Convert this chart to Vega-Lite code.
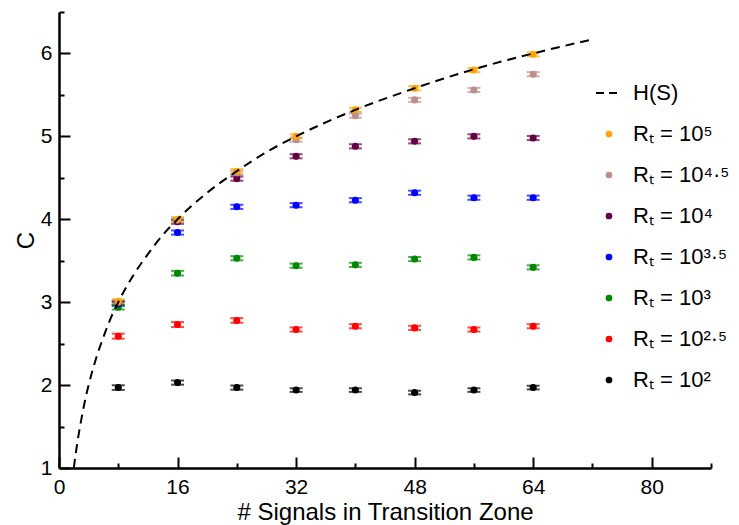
{
  "$schema": "https://vega.github.io/schema/vega-lite/v6.json",
  "width": 652,
  "height": 456,
  "autosize": {"type": "none"},
  "padding": {"left": 59, "top": 12, "right": 28, "bottom": 57},
  "background": "white",
  "config": {
    "view": {"stroke": null},
    "font": "Liberation Sans",
    "legend": {"symbolOpacity": 1},
    "axis": {
      "grid": false,
      "domainColor": "black",
      "domainWidth": 2.5,
      "tickColor": "black",
      "tickWidth": 2,
      "labelColor": "black",
      "labelFont": "Liberation Sans",
      "labelFontSize": 21,
      "labelFlush": false,
      "labelOverlap": false,
      "titleColor": "black",
      "titleFont": "Liberation Sans",
      "titleFontSize": 24,
      "titleFontWeight": "normal"
    }
  },
  "datasets": {
    "curve": [
      {"S": 2, "H": 1.0}, {"S": 2.25, "H": 1.17}, {"S": 2.5, "H": 1.32}, {"S": 3, "H": 1.58},
      {"S": 3.5, "H": 1.81}, {"S": 4, "H": 2.0}, {"S": 5, "H": 2.32}, {"S": 6, "H": 2.58},
      {"S": 7, "H": 2.81}, {"S": 8, "H": 3.0}, {"S": 10, "H": 3.32}, {"S": 12, "H": 3.58},
      {"S": 14, "H": 3.81}, {"S": 16, "H": 4.0}, {"S": 20, "H": 4.32}, {"S": 24, "H": 4.58},
      {"S": 28, "H": 4.81}, {"S": 32, "H": 5.0}, {"S": 40, "H": 5.32}, {"S": 48, "H": 5.58},
      {"S": 56, "H": 5.81}, {"S": 64, "H": 6.0}, {"S": 72, "H": 6.17}
    ],
    "points": [
      {"series": "Rₜ = 10²", "S": 8, "C": 1.97, "err": 0.028},
      {"series": "Rₜ = 10²", "S": 16, "C": 2.03, "err": 0.025},
      {"series": "Rₜ = 10²", "S": 24, "C": 1.97, "err": 0.025},
      {"series": "Rₜ = 10²", "S": 32, "C": 1.94, "err": 0.022},
      {"series": "Rₜ = 10²", "S": 40, "C": 1.94, "err": 0.022},
      {"series": "Rₜ = 10²", "S": 48, "C": 1.91, "err": 0.022},
      {"series": "Rₜ = 10²", "S": 56, "C": 1.94, "err": 0.022},
      {"series": "Rₜ = 10²", "S": 64, "C": 1.97, "err": 0.022},
      {"series": "Rₜ = 10²·⁵", "S": 8, "C": 2.59, "err": 0.03},
      {"series": "Rₜ = 10²·⁵", "S": 16, "C": 2.73, "err": 0.03},
      {"series": "Rₜ = 10²·⁵", "S": 24, "C": 2.78, "err": 0.028},
      {"series": "Rₜ = 10²·⁵", "S": 32, "C": 2.67, "err": 0.025},
      {"series": "Rₜ = 10²·⁵", "S": 40, "C": 2.71, "err": 0.025},
      {"series": "Rₜ = 10²·⁵", "S": 48, "C": 2.69, "err": 0.025},
      {"series": "Rₜ = 10²·⁵", "S": 56, "C": 2.67, "err": 0.025},
      {"series": "Rₜ = 10²·⁵", "S": 64, "C": 2.71, "err": 0.025},
      {"series": "Rₜ = 10³", "S": 8, "C": 2.94, "err": 0.028},
      {"series": "Rₜ = 10³", "S": 16, "C": 3.35, "err": 0.028},
      {"series": "Rₜ = 10³", "S": 24, "C": 3.53, "err": 0.025},
      {"series": "Rₜ = 10³", "S": 32, "C": 3.44, "err": 0.025},
      {"series": "Rₜ = 10³", "S": 40, "C": 3.45, "err": 0.025},
      {"series": "Rₜ = 10³", "S": 48, "C": 3.52, "err": 0.025},
      {"series": "Rₜ = 10³", "S": 56, "C": 3.54, "err": 0.025},
      {"series": "Rₜ = 10³", "S": 64, "C": 3.42, "err": 0.025},
      {"series": "Rₜ = 10³·⁵", "S": 8, "C": 2.98, "err": 0.025},
      {"series": "Rₜ = 10³·⁵", "S": 16, "C": 3.84, "err": 0.025},
      {"series": "Rₜ = 10³·⁵", "S": 24, "C": 4.15, "err": 0.025},
      {"series": "Rₜ = 10³·⁵", "S": 32, "C": 4.17, "err": 0.025},
      {"series": "Rₜ = 10³·⁵", "S": 40, "C": 4.23, "err": 0.025},
      {"series": "Rₜ = 10³·⁵", "S": 48, "C": 4.32, "err": 0.025},
      {"series": "Rₜ = 10³·⁵", "S": 56, "C": 4.26, "err": 0.025},
      {"series": "Rₜ = 10³·⁵", "S": 64, "C": 4.26, "err": 0.025},
      {"series": "Rₜ = 10⁴", "S": 8, "C": 2.99, "err": 0.025},
      {"series": "Rₜ = 10⁴", "S": 16, "C": 3.97, "err": 0.025},
      {"series": "Rₜ = 10⁴", "S": 24, "C": 4.49, "err": 0.025},
      {"series": "Rₜ = 10⁴", "S": 32, "C": 4.76, "err": 0.025},
      {"series": "Rₜ = 10⁴", "S": 40, "C": 4.88, "err": 0.025},
      {"series": "Rₜ = 10⁴", "S": 48, "C": 4.94, "err": 0.025},
      {"series": "Rₜ = 10⁴", "S": 56, "C": 5.0, "err": 0.025},
      {"series": "Rₜ = 10⁴", "S": 64, "C": 4.98, "err": 0.025},
      {"series": "Rₜ = 10⁴·⁵", "S": 8, "C": 3.0, "err": 0.025},
      {"series": "Rₜ = 10⁴·⁵", "S": 16, "C": 3.99, "err": 0.025},
      {"series": "Rₜ = 10⁴·⁵", "S": 24, "C": 4.56, "err": 0.025},
      {"series": "Rₜ = 10⁴·⁵", "S": 32, "C": 4.96, "err": 0.025},
      {"series": "Rₜ = 10⁴·⁵", "S": 40, "C": 5.25, "err": 0.025},
      {"series": "Rₜ = 10⁴·⁵", "S": 48, "C": 5.44, "err": 0.025},
      {"series": "Rₜ = 10⁴·⁵", "S": 56, "C": 5.56, "err": 0.025},
      {"series": "Rₜ = 10⁴·⁵", "S": 64, "C": 5.75, "err": 0.025},
      {"series": "Rₜ = 10⁵", "S": 8, "C": 3.01, "err": 0.025},
      {"series": "Rₜ = 10⁵", "S": 16, "C": 4.0, "err": 0.025},
      {"series": "Rₜ = 10⁵", "S": 24, "C": 4.58, "err": 0.025},
      {"series": "Rₜ = 10⁵", "S": 32, "C": 5.0, "err": 0.025},
      {"series": "Rₜ = 10⁵", "S": 40, "C": 5.32, "err": 0.025},
      {"series": "Rₜ = 10⁵", "S": 48, "C": 5.58, "err": 0.025},
      {"series": "Rₜ = 10⁵", "S": 56, "C": 5.8, "err": 0.025},
      {"series": "Rₜ = 10⁵", "S": 64, "C": 5.99, "err": 0.025}
    ]
  },
  "layer": [
    {
      "data": {"name": "points"},
      "mark": {"type": "errorbar", "ticks": {"size": 13, "thickness": 2}, "rule": {"strokeWidth": 2}},
      "encoding": {
        "x": {"field": "S", "type": "quantitative", "scale": {"domain": [0, 88], "nice": false, "zero": false},
          "axis": {"orient": "bottom", "values": [8, 24, 40, 56, 72, 88], "tickSize": -5, "labels": false, "domain": false, "title": null}},
        "y": {"field": "C", "type": "quantitative", "scale": {"domain": [1, 6.5], "nice": false, "zero": false},
          "axis": {"orient": "left", "values": [1.5, 2.5, 3.5, 4.5, 5.5, 6.5], "tickSize": -5, "labels": false, "domain": false, "title": null}},
        "yError": {"field": "err"},
        "color": {"field": "series", "type": "nominal",
          "scale": {
            "domain": ["H(S)", "Rₜ = 10⁵", "Rₜ = 10⁴·⁵", "Rₜ = 10⁴", "Rₜ = 10³·⁵", "Rₜ = 10³", "Rₜ = 10²·⁵", "Rₜ = 10²"],
            "range": ["#000000", "#FFA500", "#BC8F8F", "#660044", "#0000FF", "#008800", "#FF0000", "#000000"]
          },
          "legend": {
            "orient": "none",
            "legendX": 539,
            "legendY": 70,
            "title": null,
            "labelFont": "Liberation Sans",
            "labelFontSize": 22,
            "labelColor": "black",
            "labelOffset": 13,
            "rowPadding": 19,
            "symbolLimit": 0,
            "symbolOpacity": 1,
            "encode": {
              "symbols": {
                "update": {
                  "shape": {"signal": "datum.value === 'H(S)' ? 'stroke' : 'circle'"},
                  "size": {"signal": "datum.value === 'H(S)' ? 676 : 45"},
                  "strokeDash": {"signal": "datum.value === 'H(S)' ? [8, 5] : [1, 0]"},
                  "stroke": {"signal": "datum.value === 'H(S)' ? 'black' : scale('color', datum.value)"},
                  "strokeWidth": {"signal": "datum.value === 'H(S)' ? 2 : 0"},
                  "fill": {"signal": "datum.value === 'H(S)' ? 'transparent' : scale('color', datum.value)"},
                  "opacity": {"value": 1},
                  "fillOpacity": {"value": 1},
                  "strokeOpacity": {"value": 1}
                }
              }
            }
          }}
      }
    },
    {
      "data": {"name": "points"},
      "mark": {"type": "point", "filled": true, "size": 50, "opacity": 1},
      "encoding": {
        "x": {"field": "S", "type": "quantitative", "scale": {"domain": [0, 88], "nice": false, "zero": false},
          "axis": {"orient": "bottom", "values": [0, 16, 32, 48, 64, 80], "tickSize": -11, "labelPadding": 19,
            "title": "# Signals in Transition Zone", "titlePadding": 3}},
        "y": {"field": "C", "type": "quantitative", "scale": {"domain": [1, 6.5], "nice": false, "zero": false},
          "axis": {"orient": "left", "values": [1, 2, 3, 4, 5, 6], "tickSize": -11, "labelPadding": 18,
            "title": "C", "titlePadding": 2}},
        "color": {"field": "series", "type": "nominal",
          "scale": {
            "domain": ["H(S)", "Rₜ = 10⁵", "Rₜ = 10⁴·⁵", "Rₜ = 10⁴", "Rₜ = 10³·⁵", "Rₜ = 10³", "Rₜ = 10²·⁵", "Rₜ = 10²"],
            "range": ["#000000", "#FFA500", "#BC8F8F", "#660044", "#0000FF", "#008800", "#FF0000", "#000000"]
          },
          "legend": {
            "orient": "none",
            "legendX": 539,
            "legendY": 70,
            "title": null,
            "labelFont": "Liberation Sans",
            "labelFontSize": 22,
            "labelColor": "black",
            "labelOffset": 13,
            "rowPadding": 19,
            "symbolLimit": 0,
            "symbolOpacity": 1,
            "encode": {
              "symbols": {
                "update": {
                  "shape": {"signal": "datum.value === 'H(S)' ? 'stroke' : 'circle'"},
                  "size": {"signal": "datum.value === 'H(S)' ? 676 : 45"},
                  "strokeDash": {"signal": "datum.value === 'H(S)' ? [8, 5] : [1, 0]"},
                  "stroke": {"signal": "datum.value === 'H(S)' ? 'black' : scale('color', datum.value)"},
                  "strokeWidth": {"signal": "datum.value === 'H(S)' ? 2 : 0"},
                  "fill": {"signal": "datum.value === 'H(S)' ? 'transparent' : scale('color', datum.value)"},
                  "opacity": {"value": 1},
                  "fillOpacity": {"value": 1},
                  "strokeOpacity": {"value": 1}
                }
              }
            }
          }}
      }
    },
    {
      "data": {"name": "curve"},
      "mark": {"type": "line", "color": "black", "strokeWidth": 2, "strokeDash": [9, 6], "interpolate": "monotone"},
      "encoding": {
        "x": {"field": "S", "type": "quantitative", "scale": {"domain": [0, 88], "nice": false, "zero": false}, "axis": null},
        "y": {"field": "H", "type": "quantitative", "scale": {"domain": [1, 6.5], "nice": false, "zero": false}, "axis": null}
      }
    }
  ],
  "resolve": {"axis": {"x": "independent", "y": "independent"}}
}
